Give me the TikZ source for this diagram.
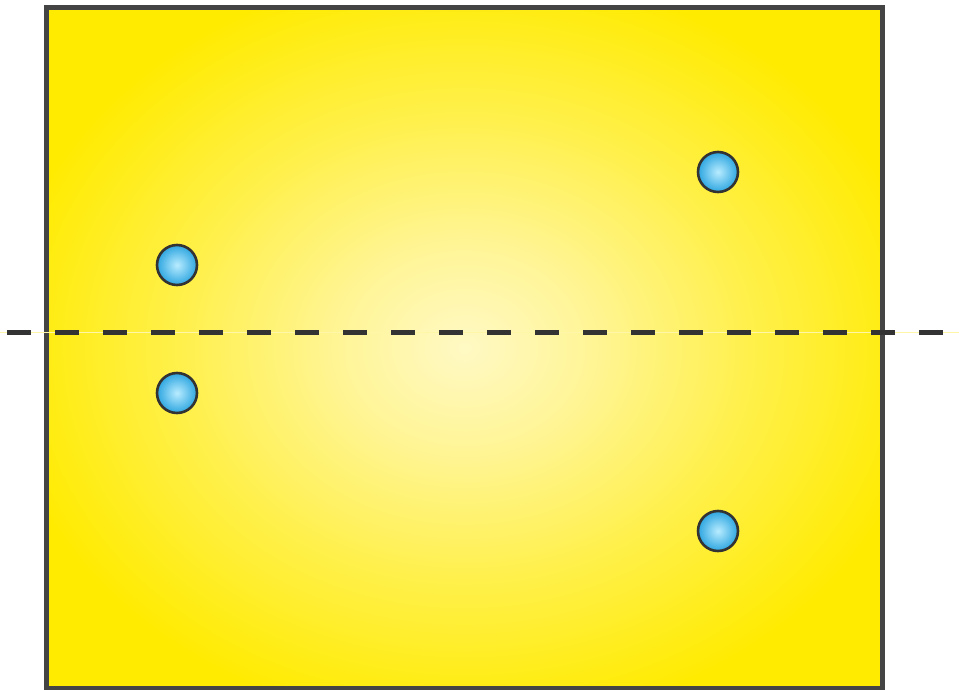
\documentclass[tikz,border=0pt]{standalone}
\usepackage{tikz}
\usetikzlibrary{positioning}
\definecolor{frame}{HTML}{444444}
\definecolor{ink}{HTML}{333333}
\definecolor{gold}{HTML}{FFEB00}
\definecolor{glowc}{HTML}{FFF9C4}
\definecolor{glowm}{HTML}{FFF59A}
\definecolor{glowo}{HTML}{FFF04C}
\definecolor{cyanlt}{HTML}{B8ECFF}
\definecolor{cyandk}{HTML}{2EA6E0}
\definecolor{haze}{HTML}{FFF6A8}

% light centre of the plate, full yellow toward the rim
\pgfdeclareradialshading{plateglow}{\pgfpoint{0bp}{0bp}}{%
  color(0bp)=(glowc); color(7bp)=(glowm); color(17bp)=(glowo);
  color(28bp)=(gold); color(50bp)=(gold)}

\begin{document}
\begin{tikzpicture}[
    x=1pt,y=-1pt,
    ball/.style={circle,draw=ink,line width=2.6pt,minimum size=40pt,
        inner sep=0pt,inner color=cyanlt,outer color=cyandk},
    axisline/.style={draw=ink,line width=5pt,dash pattern=on 24pt off 24pt},
  ]
  \useasboundingbox (0,0) rectangle (959,690);

  % ============================================================= PLATE
  \draw[frame,line width=5pt,shading=plateglow] (46.5,7.5) rectangle (882.5,688);

  % ============================================================= AXIS
  \coordinate (axL) at (0,332);
  \coordinate (axR) at (959,332);
  \draw[haze,line width=1pt] (axL) -- (axR);
  \coordinate (dashL) at (7,332);
  \coordinate (dashR) at (943,332);
  \draw[axisline] (dashL) -- (dashR);

  % ============================================================= BALLS
  \node[ball] (ballA) at (177,265) {};
  \node[ball] (ballB) at (177,393) {};
  \node[ball] (ballC) at (718,172) {};
  \node[ball] (ballD) at (718,531) {};
\end{tikzpicture}
\end{document}
